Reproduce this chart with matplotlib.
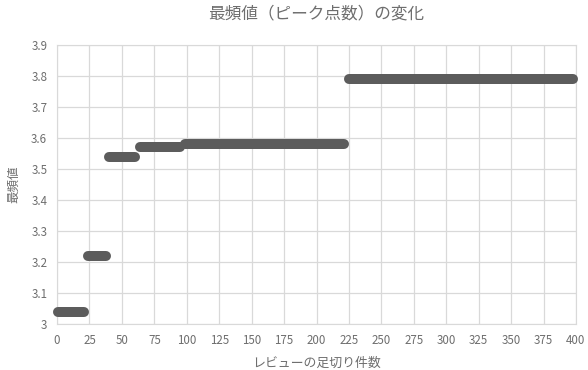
import matplotlib
matplotlib.use("Agg")
import matplotlib.pyplot as plt

plt.rcParams['font.family'] = ['Noto Sans CJK JP', 'DejaVu Sans']

# step segments: cutoff range -> mode value
seg_start = [1, 24, 40, 64, 99, 225]
seg_end = [21, 38, 60, 95, 221, 398]
seg_value = [3.04, 3.22, 3.54, 3.57, 3.58, 3.79]

x_ticks = list(range(0, 401, 25))
y_ticks = [3.0, 3.1, 3.2, 3.3, 3.4, 3.5, 3.6, 3.7, 3.8, 3.9]
y_labels = ["3", "3.1", "3.2", "3.3", "3.4", "3.5", "3.6", "3.7", "3.8", "3.9"]

gray = "#5c5c5c"
text = "#6e6e6e"
grid = "#d9d9d9"

fig = plt.figure(figsize=(5.88, 3.70), dpi=100)
ax = fig.add_axes([57/588, 1-324/370, (576-57)/588, (324-45)/370])

for s, e, v in zip(seg_start, seg_end, seg_value):
    ax.plot([s, e], [v, v], color=gray, lw=7.2, solid_capstyle='round',
            zorder=3, clip_on=False)

ax.set_xlim(0, 400)
ax.set_ylim(3, 3.9)
ax.set_xticks(x_ticks)
ax.set_yticks(y_ticks)
ax.set_yticklabels(y_labels)
ax.grid(True, color=grid, lw=0.9)
ax.set_axisbelow(True)
for sp in ax.spines.values():
    sp.set_color(grid)
ax.tick_params(length=0, colors=text, labelsize=8.3, pad=7)

ax.set_title("最頻値（ピーク点数）の変化", color=text, fontsize=12, pad=19)
ax.set_xlabel("レビューの足切り件数", color=text, fontsize=9.3, labelpad=7)
ax.set_ylabel("最頻値", color=text, fontsize=9, labelpad=8)

fig.savefig("out.png", dpi=100)
